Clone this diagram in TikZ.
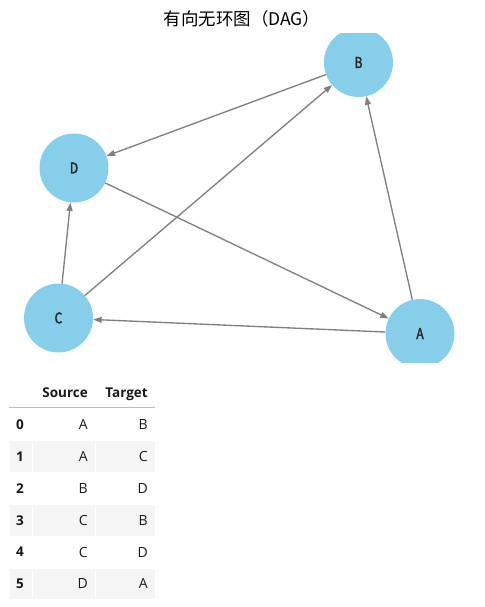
\documentclass[tikz,border=0pt]{standalone}
\usepackage{fontspec}
\setmainfont{Open Sans}
\newfontfamily\cjk{Noto Sans CJK SC}
\newfontfamily\lab[FakeBold=2,FakeStretch=0.8]{Noto Sans CJK SC}
\usetikzlibrary{arrows.meta}
\definecolor{sky}{HTML}{87CEEB}
\definecolor{edgegray}{HTML}{808080}
\definecolor{rowgray}{HTML}{F5F5F5}
\definecolor{linegray}{HTML}{BDBDBD}
\begin{document}
\begin{tikzpicture}[x=1pt,y=-1pt,
  vert/.style={circle,fill=sky,minimum size=69pt,inner sep=0pt,
    font=\lab\fontsize{15}{17}\selectfont,text=black!85},
  edge/.style={draw=edgegray,line width=1.35pt,-{Triangle[length=8.5pt,width=6pt]}},
  cellg/.style={draw=white,line width=1pt,fill=rowgray},
  tabtxt/.style={font=\fontsize{14}{16}\selectfont,text=black!90,inner sep=0pt},
  tabhead/.style={font=\bfseries\fontsize{13.5}{16}\selectfont,text=black!90,inner sep=0pt}]
\useasboundingbox (0,0) rectangle (484,607);
\node (title) at (242,19) {\cjk\fontsize{17.5}{19}\selectfont 有向无环图（DAG）};
\begin{scope}
  \clip (0,33.5) rectangle (484,362);
  \node[vert] (B) at (358.5,62.5) {B};
  \node[vert] (D) at (74,168) {D};
  \node[vert] (C) at (58.5,318) {C};
  \node[vert] (A) at (420,333.5) {A};
  \draw[edge] (A) -- (B);
  \draw[edge] (A) -- (C);
  \draw[edge] (B) -- (D);
  \draw[edge] (C) -- (B);
  \draw[edge] (C) -- (D);
  \draw[edge] (D) -- (A);
\end{scope}
% table
\node[tabhead,anchor=base east] (hs) at (88,397) {Source};
\node[tabhead,anchor=base east] (ht) at (148,397) {Target};
\draw[linegray,line width=1.6pt] (9,407.5) -- (155,407.5);
\foreach \i/\s/\t in {0/A/B,1/A/C,2/B/D,3/C/B,4/C/D,5/D/A}{
  \pgfmathsetmacro{\top}{409+31.8*\i}
  \pgfmathsetmacro{\bot}{409+31.8*(\i+1)}
  \pgfmathsetmacro{\mid}{409+31.8*\i+15.9}
  \ifodd\i
    \path[cellg] (9,\top) rectangle (32,\bot);
    \path[cellg] (32,\top) rectangle (95,\bot);
    \path[cellg] (95,\top) rectangle (155,\bot);
  \fi
  \node[tabhead] (idx\i) at (20,\mid) {\i};
  \node[tabtxt,anchor=east] (src\i) at (88,\mid) {\s};
  \node[tabtxt,anchor=east] (tgt\i) at (148,\mid) {\t};
}
\end{tikzpicture}
\end{document}
